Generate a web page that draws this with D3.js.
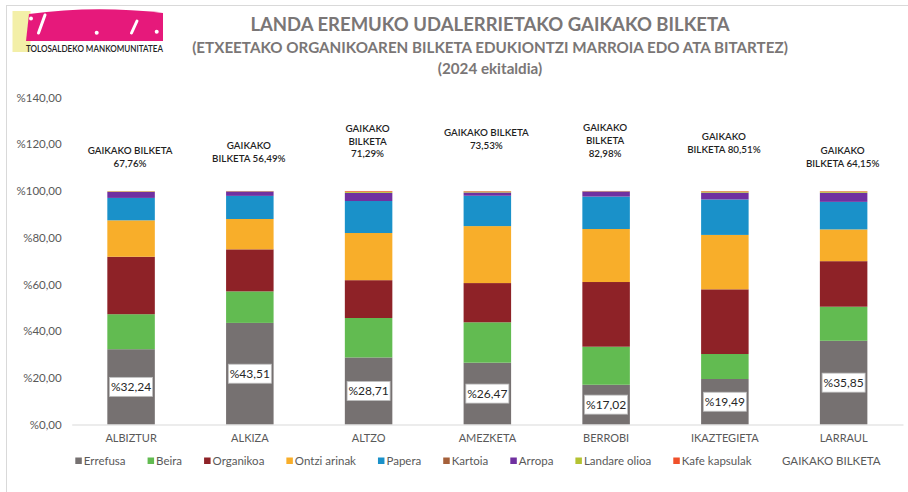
<!DOCTYPE html>
<html>
<head>
<meta charset="utf-8">
<script src="https://cdn.jsdelivr.net/npm/d3@7"></script>
<style>
body { margin: 0; background: #fff; }
text { font-family: Lato, "Open Sans", sans-serif; }
</style>
</head>
<body>
<script>
// Data
var categories = ["ALBIZTUR", "ALKIZA", "ALTZO", "AMEZKETA", "BERROBI", "IKAZTEGIETA", "LARRAUL"];
var seriesNames = ["Errefusa", "Beira", "Organikoa", "Ontzi arinak", "Papera", "Kartoia", "Arropa", "Landare olioa", "Kafe kapsulak"];
var errefusa = [32.24, 43.51, 28.71, 26.47, 17.02, 19.49, 35.85];
var beira = [15.0, 13.5, 16.9, 17.3, 16.3, 10.7, 14.6];
var organikoa = [24.6, 18.0, 16.2, 16.8, 27.7, 27.7, 19.5];
var ontziArinak = [15.6, 13.0, 20.2, 24.4, 22.7, 23.3, 13.6];
var papera = [9.6, 9.9, 13.7, 13.0, 13.9, 15.2, 11.8];
var kartoia = [0, 0, 0, 0, 0, 0, 0];
var arropa = [2.6, 1.9, 3.5, 1.4, 2.2, 2.9, 3.9];
var landareOlioa = [0.2, 0.1, 0.5, 0.4, 0.1, 0.5, 0.5];
var kafeKapsulak = [0.1, 0.1, 0.3, 0.2, 0.1, 0.2, 0.2];
var gaikako = [67.76, 56.49, 71.29, 73.53, 82.98, 80.51, 64.15];
var yTicks = [0, 20, 40, 60, 80, 100, 120, 140];

var colors = ["#767171", "#62bb51", "#8e2227", "#f8ae2a", "#1a91c9", "#a5603a", "#7030a0", "#b4c232", "#f0502a"];

// How each GAIKAKO BILKETA label is wrapped, and the value where its first line sits
var gaikakoWrap = ["a", "b", "c", "a", "c", "b", "b"];
var gaikakoAt = [117.3, 119.4, 126.9, 125.0, 127.1, 123.3, 117.3];

var W = 908, H = 492;
var svg = d3.select("body").append("svg")
    .attr("width", W)
    .attr("height", H);

// Frame lines (top and left)
svg.append("line").attr("x1", 6).attr("y1", 5.5).attr("x2", W).attr("y2", 5.5)
    .attr("stroke", "#d9d9d9").attr("stroke-width", 1);
svg.append("line").attr("x1", 6.5).attr("y1", 5).attr("x2", 6.5).attr("y2", H)
    .attr("stroke", "#d9d9d9").attr("stroke-width", 1);

// Logo
var logo = svg.append("g");
logo.append("rect").attr("x", 12.5).attr("y", 11).attr("width", 18).attr("height", 41).attr("fill", "#f3efa8");
logo.append("path")
    .attr("d", "M29,14 Q95,5 163,13 L163,41 L26,41 Z")
    .attr("fill", "#e6197b");
logo.append("line").attr("x1", 45).attr("y1", 15).attr("x2", 38.5).attr("y2", 33)
    .attr("stroke", "#fff").attr("stroke-width", 3).attr("stroke-linecap", "round");
logo.append("line").attr("x1", 137).attr("y1", 21).attr("x2", 131.5).attr("y2", 33)
    .attr("stroke", "#fff").attr("stroke-width", 3).attr("stroke-linecap", "round");
[[31, 18.5], [96.7, 32.7], [156.7, 31.7]].forEach(function(p) {
    logo.append("circle").attr("cx", p[0]).attr("cy", p[1]).attr("r", 2).attr("fill", "#fff");
});
logo.append("text")
    .attr("x", 26).attr("y", 51.5)
    .attr("textLength", 137).attr("lengthAdjust", "spacingAndGlyphs")
    .style("font-size", "9px").style("font-weight", "600").style("fill", "#222")
    .text("TOLOSALDEKO MANKOMUNITATEA");

// Titles
var titles = [
    { t: "LANDA EREMUKO UDALERRIETAKO GAIKAKO BILKETA", y: 31, s: 18.5 },
    { t: "(ETXEETAKO ORGANIKOAREN BILKETA EDUKIONTZI MARROIA EDO ATA BITARTEZ)", y: 52.5, s: 15.2 },
    { t: "(2024 ekitaldia)", y: 74, s: 15.2 }
];
titles.forEach(function(d) {
    svg.append("text")
        .attr("x", 490).attr("y", d.y)
        .attr("text-anchor", "middle")
        .style("font-size", d.s + "px").style("font-weight", "bold").style("fill", "#7a7676")
        .text(d.t);
});

// Scales
var x = d3.scaleBand().domain(categories).range([71.7, 903]).paddingInner(0.6).paddingOuter(0.3);
var y = d3.scaleLinear().domain([0, 140]).range([424.5, 97.6]);

// Build rows for stacking
var seriesArrays = [errefusa, beira, organikoa, ontziArinak, papera, kartoia, arropa, landareOlioa, kafeKapsulak];
var rows = categories.map(function(c, i) {
    var r = { cat: c };
    seriesNames.forEach(function(s, j) { r[s] = seriesArrays[j][i]; });
    return r;
});
var stacked = d3.stack().keys(seriesNames)(rows);

// Y axis labels
var yAxis = svg.append("g")
    .attr("transform", "translate(71.7,0)")
    .call(d3.axisLeft(y).tickValues(yTicks).tickSize(0).tickPadding(10)
        .tickFormat(function(d) { return "%" + d.toFixed(2).replace(".", ","); }));
yAxis.select(".domain").remove();
yAxis.selectAll("text").style("font-size", "11.5px").style("fill", "#595959").style("font-family", "Lato, sans-serif");

// Bars
svg.selectAll(".layer")
    .data(stacked)
    .enter().append("g")
    .attr("class", "layer")
    .attr("fill", function(d, i) { return colors[i]; })
    .selectAll("rect")
    .data(function(d) { return d; })
    .enter().append("rect")
    .attr("x", function(d) { return x(d.data.cat); })
    .attr("y", function(d) { return y(d[1]); })
    .attr("width", x.bandwidth())
    .attr("height", function(d) { return y(d[0]) - y(d[1]); });

// X axis
var xAxis = svg.append("g")
    .attr("transform", "translate(0,424.5)")
    .call(d3.axisBottom(x).tickSize(0).tickPadding(10));
xAxis.select(".domain").attr("stroke", "#d9d9d9");
xAxis.selectAll("text").style("font-size", "11px").style("fill", "#595959").style("font-family", "Lato, sans-serif");

// Errefusa value boxes
var boxes = svg.selectAll(".vbox")
    .data(stacked[0])
    .enter().append("g")
    .attr("class", "vbox")
    .attr("transform", function(d) {
        return "translate(" + (x(d.data.cat) + x.bandwidth() / 2) + "," + y((d[0] + d[1]) / 2) + ")";
    });
boxes.append("rect")
    .attr("x", -21.5).attr("y", -9.5).attr("width", 43).attr("height", 19)
    .attr("fill", "#fff").attr("stroke", "#bfbfbf").attr("stroke-width", 0.8);
boxes.append("text")
    .attr("text-anchor", "middle").attr("dy", "0.36em")
    .style("font-size", "12px").style("fill", "#262626")
    .text(function(d) { return "%" + d.data.Errefusa.toFixed(2).replace(".", ","); });

// GAIKAKO BILKETA labels above the bars
categories.forEach(function(c, i) {
    var v = gaikako[i].toFixed(2).replace(".", ",") + "%";
    var lines;
    if (gaikakoWrap[i] === "a") lines = ["GAIKAKO BILKETA", v];
    else if (gaikakoWrap[i] === "b") lines = ["GAIKAKO", "BILKETA " + v];
    else lines = ["GAIKAKO", "BILKETA", v];
    var t = svg.append("text")
        .attr("text-anchor", "middle")
        .style("font-size", "9.8px").style("font-weight", "600").style("fill", "#1f1f1f");
    lines.forEach(function(l, k) {
        t.append("tspan")
            .attr("x", x(c) + x.bandwidth() / 2 - 1)
            .attr("y", y(gaikakoAt[i]) + k * 12.8)
            .attr("dy", "0.36em")
            .text(l);
    });
});

// Legend
var legend = svg.append("g").attr("transform", "translate(75.3,461)");
var lx = 0;
seriesNames.concat(["GAIKAKO BILKETA"]).forEach(function(name, i) {
    if (i < seriesNames.length) {
        legend.append("rect").attr("x", lx).attr("y", -3.5).attr("width", 6.5).attr("height", 6.5).attr("fill", colors[i]);
    }
    var t = legend.append("text")
        .attr("x", lx + 8.5).attr("dy", "0.36em")
        .style("font-size", "11.5px").style("fill", "#595959")
        .text(name);
    lx = lx + 8.5 + t.node().getComputedTextLength() + 22;
});
</script>
</body>
</html>
